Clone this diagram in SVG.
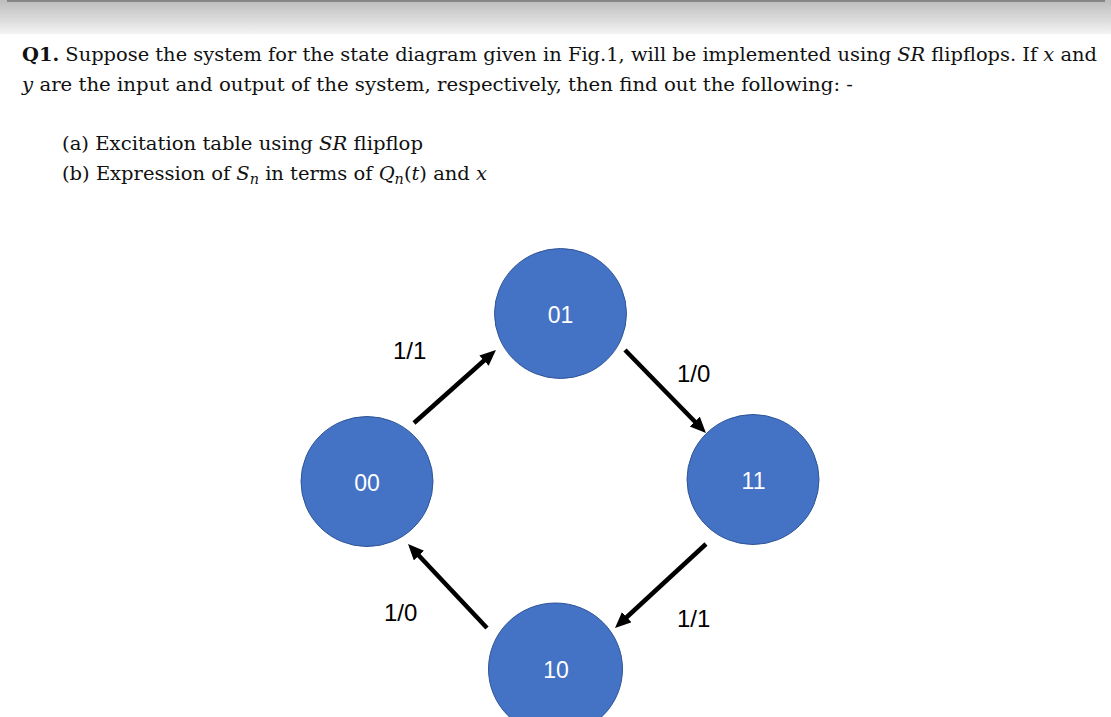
<svg xmlns="http://www.w3.org/2000/svg" width="1111" height="717" viewBox="0 0 1111 717">
  <defs>
    <linearGradient id="topbar" x1="0" y1="0" x2="0" y2="1">
      <stop offset="0" stop-color="#bdbdbd"/>
      <stop offset="0.6" stop-color="#dcdcdc"/>
      <stop offset="1" stop-color="#f4f4f4"/>
    </linearGradient>
    <marker id="arrow" markerUnits="userSpaceOnUse" markerWidth="18" markerHeight="16" refX="2" refY="7" orient="auto">
      <path d="M0,0 L16,7 L0,14 z" fill="#000"/>
    </marker>
    <style>
      .q { font-family: "DejaVu Serif", "Liberation Serif", serif; font-size: 19px; fill: #111; }
      .it { font-style: italic; }
      .node { fill: #4472C4; stroke: #2F5597; stroke-width: 1; }
      .ntext { font-family: "Liberation Sans", Arial, sans-serif; font-size: 23px; fill: #ffffff; text-anchor: middle; }
      .lbl { font-family: "Liberation Sans", Arial, sans-serif; font-size: 24px; fill: #000; }
      .edge { stroke: #000; stroke-width: 4.5; fill: none; marker-end: url(#arrow); }
    </style>
  </defs>
  <rect width="1111" height="717" fill="#ffffff"/>
  <rect x="0" y="0" width="1111" height="34" fill="url(#topbar)"/>
  <rect x="7" y="0" width="1098" height="2" fill="#868686"/>

  <g id="question">
    <text class="q" x="22" y="61" textLength="1075" lengthAdjust="spacingAndGlyphs"><tspan font-weight="bold">Q1.</tspan> Suppose the system for the state diagram given in Fig.1, will be implemented using <tspan class="it">SR</tspan> flipflops. If <tspan class="it">x</tspan> and</text>
    <text class="q" x="22" y="91" textLength="831" lengthAdjust="spacingAndGlyphs"><tspan class="it">y</tspan> are the input and output of the system, respectively, then find out the following: -</text>
    <text class="q" x="62" y="150" textLength="361" lengthAdjust="spacingAndGlyphs">(a) Excitation table using <tspan class="it">SR</tspan> flipflop</text>
    <text class="q" x="62" y="180" textLength="425" lengthAdjust="spacingAndGlyphs">(b) Expression of <tspan class="it">S</tspan><tspan class="it" font-size="14" dy="4">n</tspan><tspan dy="-4"> in terms of </tspan><tspan class="it">Q</tspan><tspan class="it" font-size="14" dy="4">n</tspan><tspan dy="-4">(</tspan><tspan class="it">t</tspan>) and <tspan class="it">x</tspan></text>
  </g>

  <g id="connectors">
    <line class="edge" x1="414" y1="423" x2="485.5" y2="359.3"/>
    <line class="edge" x1="625" y1="350" x2="696.2" y2="423"/>
    <line class="edge" x1="706" y1="544" x2="625.3" y2="618.5"/>
    <line class="edge" x1="487" y1="628" x2="417.6" y2="554.2"/>
    <text class="lbl" x="393" y="359">1/1</text>
    <text class="lbl" x="677" y="382">1/0</text>
    <text class="lbl" x="677" y="627">1/1</text>
    <text class="lbl" x="384" y="621">1/0</text>
  </g>

  <g id="node-01">
    <ellipse class="node" cx="560.5" cy="313.5" rx="66" ry="65"/>
    <text class="ntext" x="560.5" y="323">01</text>
  </g>
  <g id="node-00">
    <ellipse class="node" cx="367" cy="481.5" rx="66" ry="65"/>
    <text class="ntext" x="367" y="491">00</text>
  </g>
  <g id="node-11">
    <ellipse class="node" cx="753" cy="479.5" rx="66" ry="65"/>
    <text class="ntext" x="753.5" y="489">11</text>
  </g>
  <g id="node-10">
    <ellipse class="node" cx="555.5" cy="669" rx="67" ry="66"/>
    <text class="ntext" x="556" y="678">10</text>
  </g>
</svg>
